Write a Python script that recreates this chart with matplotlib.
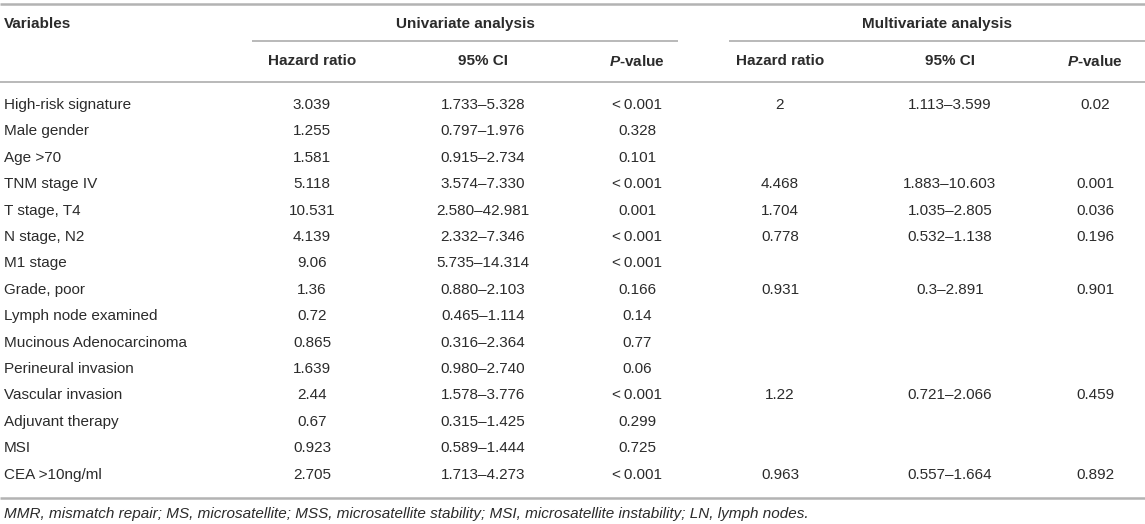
import matplotlib
matplotlib.use("Agg")
import matplotlib.pyplot as plt

plt.rcParams['font.family'] = ['Liberation Sans', 'DejaVu Sans']
plt.rcParams['mathtext.fontset'] = 'custom'
plt.rcParams['mathtext.it'] = 'Liberation Sans:italic:bold'
plt.rcParams['mathtext.rm'] = 'Liberation Sans:bold'

variables = ["High-risk signature", "Male gender", "Age >70", "TNM stage IV",
             "T stage, T4", "N stage, N2", "M1 stage", "Grade, poor",
             "Lymph node examined", "Mucinous Adenocarcinoma",
             "Perineural invasion", "Vascular invasion", "Adjuvant therapy",
             "MSI", "CEA >10ng/ml"]
uni_hr = ["3.039", "1.255", "1.581", "5.118", "10.531", "4.139", "9.06", "1.36",
          "0.72", "0.865", "1.639", "2.44", "0.67", "0.923", "2.705"]
uni_ci = ["1.733\u20135.328", "0.797\u20131.976", "0.915\u20132.734", "3.574\u20137.330",
          "2.580\u201342.981", "2.332\u20137.346", "5.735\u201314.314", "0.880\u20132.103",
          "0.465\u20131.114", "0.316\u20132.364", "0.980\u20132.740", "1.578\u20133.776",
          "0.315\u20131.425", "0.589\u20131.444", "1.713\u20134.273"]
uni_p = ["<\u20090.001", "0.328", "0.101", "<\u20090.001", "0.001", "<\u20090.001",
         "<\u20090.001", "0.166", "0.14", "0.77", "0.06", "<\u20090.001", "0.299",
         "0.725", "<\u20090.001"]
multi_hr = ["2", "", "", "4.468", "1.704", "0.778", "", "0.931", "", "", "", "1.22", "", "", "0.963"]
multi_ci = ["1.113\u20133.599", "", "", "1.883\u201310.603", "1.035\u20132.805",
            "0.532\u20131.138", "", "0.3\u20132.891", "", "", "", "0.721\u20132.066",
            "", "", "0.557\u20131.664"]
multi_p = ["0.02", "", "", "0.001", "0.036", "0.196", "", "0.901", "", "", "", "0.459",
           "", "", "0.892"]
footnote = ("MMR, mismatch repair; MS, microsatellite; MSS, microsatellite stability; "
            "MSI, microsatellite instability; LN, lymph nodes.")

W, H = 1145, 524
fig = plt.figure(figsize=(W / 100, H / 100), dpi=100)
ax = fig.add_axes([0, 0, 1, 1])
ax.set_xlim(0, W)
ax.set_ylim(H, 0)
ax.axis('off')

txt = '#2b2b2b'
line_c = '#b3b3b3'
fs = 11

# rules
ax.plot([0, W], [4, 4], color=line_c, lw=1.8, solid_capstyle='butt')
ax.plot([252, 678], [41, 41], color=line_c, lw=1.3, solid_capstyle='butt')
ax.plot([729, W], [41, 41], color=line_c, lw=1.3, solid_capstyle='butt')
ax.plot([0, W], [82, 82], color=line_c, lw=1.3, solid_capstyle='butt')
ax.plot([0, W], [498, 498], color=line_c, lw=1.8, solid_capstyle='butt')

# headers
ax.text(4, 24, "Variables", fontsize=fs, fontweight='bold', color=txt, va='center')
ax.text(465, 24, "Univariate analysis", fontsize=fs, fontweight='bold', color=txt,
        va='center', ha='center')
ax.text(937, 24, "Multivariate analysis", fontsize=fs, fontweight='bold', color=txt,
        va='center', ha='center')

cols = [312, 483, 637, 780, 950, 1095]
subheads = ["Hazard ratio", "95% CI", "$P$-value", "Hazard ratio", "95% CI", "$P$-value"]
for x, s in zip(cols, subheads):
    ax.text(x, 61, s, fontsize=fs, fontweight='bold', color=txt, va='center', ha='center')

# body
y0, dy = 105, 26.4
columns = [uni_hr, uni_ci, uni_p, multi_hr, multi_ci, multi_p]
for i, name in enumerate(variables):
    y = y0 + i * dy
    ax.text(4, y, name, fontsize=fs, color=txt, va='center')
    for x, col in zip(cols, columns):
        ax.text(x, y, col[i], fontsize=fs, color=txt, va='center', ha='center')

ax.text(4, 514, footnote, fontsize=fs, style='italic', color=txt, va='center')

fig.savefig("out.png", dpi=100)
